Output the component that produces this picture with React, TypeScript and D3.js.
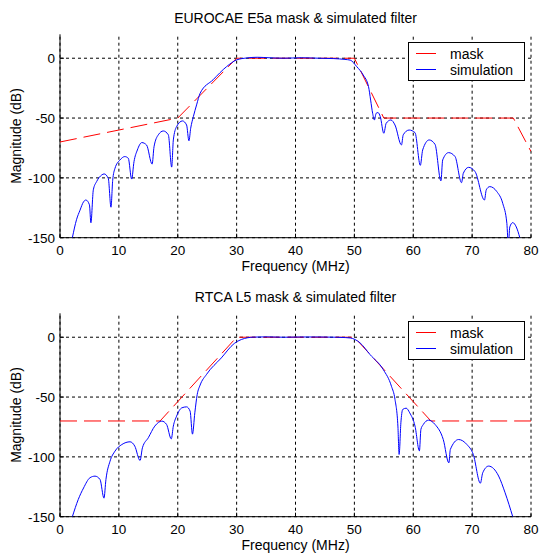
import React from "react";
import * as d3 from "d3";

const freqTicks = [0, 10, 20, 30, 40, 50, 60, 70, 80];
const magTicks = [-150, -100, -50, 0];
const legendLabels = ["mask", "simulation"];
const titles = ["EUROCAE E5a mask & simulated filter", "RTCA L5 mask & simulated filter"];

const e5aMaskF = [0, 20, 22, 30, 50, 55, 77, 80];
const e5aMaskDb = [-70, -50, -40, 0, 0, -50, -50, -78];

const e5aSimF = [2.1, 2.8, 3.4, 4.0, 4.4, 5.0, 5.25, 5.66, 6.23, 7.08, 7.5, 8.2, 8.66, 8.95, 9.34, 10.2, 11.0, 11.6, 12.17, 12.57, 13.14, 13.9, 14.7, 15.65, 15.97, 16.7, 17.55, 18.4, 18.97, 19.25, 19.8, 20.8, 21.5, 21.9, 22.2, 22.65, 23.2, 23.8, 26.0, 28.3, 30.0, 31.7, 33.5, 35.5, 38, 41, 44, 46.5, 48.4, 49.3, 50.4, 51.5, 52.4, 52.76, 53.1, 53.4, 53.7, 54.0, 54.4, 55.0, 55.4, 56.2, 56.9, 58.0, 58.3, 59.3, 60.3, 61.2, 61.6, 62.7, 63.7, 64.7, 65.0, 66.0, 67.1, 68.2, 68.5, 69.4, 70.5, 72.1, 72.4, 73.0, 74.2, 75.2, 75.9, 76.15, 76.4, 76.9, 77.5, 78.1];
const e5aSimDb = [-150, -135, -127, -120, -118.5, -122.5, -137.5, -110, -103, -97.6, -96.7, -100.4, -124.5, -102, -92, -85, -82.2, -83.6, -101, -86.4, -76.7, -70.5, -72.5, -88.5, -74, -64, -60.8, -64, -91, -68.3, -57.2, -52.4, -55.8, -69, -58.5, -48.8, -39, -29.3, -18, -7, -1.4, 0.2, 0.8, 0.4, 0, 0.4, 0, -0.3, -1, -1.6, -7, -14, -23.7, -35, -46, -51.6, -46, -45.4, -48.8, -62.7, -54.4, -51.6, -55.8, -72.5, -64, -60, -62.2, -89.5, -76.7, -68.3, -72, -102.5, -85, -78.9, -82.2, -104, -96.2, -91.2, -94.8, -118.5, -110, -107.3, -111.5, -121.3, -138, -156, -141, -137.4, -141, -150];

const l5MaskF = [0, 17, 30, 50, 63, 80];
const l5MaskDb = [-70, -70, 0, 0, -70, -70];

const l5SimF = [2.1, 3.1, 4.0, 5.1, 5.95, 6.8, 7.47, 7.8, 8.5, 9.34, 10.5, 11.9, 12.7, 13.6, 14.0, 15.0, 16.1, 17.3, 18.1, 18.9, 19.25, 19.8, 20.7, 21.5, 22.1, 22.5, 22.9, 23.3, 23.8, 24.9, 27.4, 29.6, 30.8, 32.9, 35, 38, 41, 44, 47, 48.5, 49.3, 50.96, 52.66, 54.9, 56.3, 56.9, 57.4, 57.6, 57.9, 58.2, 58.8, 59.4, 60.3, 61.05, 61.3, 61.7, 62.6, 63.7, 65.1, 66.05, 66.3, 67.7, 69.1, 70.2, 71.4, 71.8, 72.8, 74.5, 75.6, 76.9];
const l5SimDb = [-150, -135.6, -126, -117.4, -116.1, -118.9, -134.5, -119, -103.6, -95.2, -89.7, -87.4, -91, -103, -92.4, -84, -74.3, -70.1, -72.9, -85, -74.3, -66, -59, -58.2, -61.8, -81, -63.2, -48, -40, -31, -17.3, -5.2, -1.9, 0.1, 0.3, 0, 0.2, 0.2, 0, -0.3, -0.6, -4.7, -14.5, -27, -41, -52, -75, -98, -71.5, -60.4, -59.3, -63.2, -74.3, -95, -77, -73, -69.3, -72.9, -85.5, -105, -93.8, -85.5, -89.6, -98, -122, -113.3, -107.7, -116, -130, -150];

const FONT = "Arial, 'Liberation Sans', Helvetica, sans-serif";

type PanelProps = {
  title: string;
  maskF: number[];
  maskDb: number[];
  simF: number[];
  simDb: number[];
  off: number;
  id: string;
};

function Panel({ title, maskF, maskDb, simF, simDb, off, id }: PanelProps) {
  const x = d3.scaleLinear().domain([0, 80]).range([60, 531]);
  const y = d3.scaleLinear().domain([-150, 20]).range([237.7 + off, 34.3 + off]);
  const maskPts: [number, number][] = maskF.map((f, i) => [f, maskDb[i]]);
  const simPts: [number, number][] = simF.map((f, i) => [f, simDb[i]]);
  const lineLin = d3.line<[number, number]>().x((d) => x(d[0])).y((d) => y(d[1]));
  const lineSim = d3
    .line<[number, number]>()
    .x((d) => x(d[0]))
    .y((d) => y(d[1]))
    .curve(d3.curveMonotoneX);
  const [y0, y1] = y.range();
  const [x0, x1] = x.range();
  const cx = (x0 + x1) / 2;
  return (
    <g fontFamily={FONT} fontSize={14} fill="#000">
      <defs>
        <clipPath id={id}>
          <rect x={x0} y={y1} width={x1 - x0} height={y0 - y1} />
        </clipPath>
      </defs>
      <text x={cx} y={23 + off} textAnchor="middle">{title}</text>
      {/* grid */}
      {freqTicks.map((t) => (
        <line key={"gx" + t} x1={x(t)} x2={x(t)} y1={y0} y2={y1} stroke="#000" strokeWidth={1} strokeDasharray="3,3" />
      ))}
      {magTicks.map((t) => (
        <line key={"gy" + t} x1={x0} x2={x1} y1={y(t)} y2={y(t)} stroke="#000" strokeWidth={1} strokeDasharray="3,3" />
      ))}
      {/* ticks */}
      {freqTicks.map((t) => (
        <line key={"tx" + t} x1={x(t)} x2={x(t)} y1={y0} y2={y0 - 4} stroke="#000" />
      ))}
      {magTicks.map((t) => (
        <line key={"ty" + t} x1={x0} x2={x0 + 4} y1={y(t)} y2={y(t)} stroke="#000" />
      ))}
      {/* axes */}
      <line x1={x0} x2={x0} y1={y0} y2={y1} stroke="#000" />
      <line x1={x0} x2={x1} y1={y0} y2={y0} stroke="#000" />
      {freqTicks.map((t) => (
        <text key={"lx" + t} x={x(t)} y={y0 + 17.5} textAnchor="middle" fontSize={13.5}>{t}</text>
      ))}
      {magTicks.map((t) => (
        <text key={"ly" + t} x={55} y={y(t) + 5} textAnchor="end" fontSize={13.5}>{t}</text>
      ))}
      <text x={cx} y={y0 + 33.5} textAnchor="middle">Frequency (MHz)</text>
      <text transform={`translate(21,${(y0 + y1) / 2}) rotate(-90)`} textAnchor="middle">Magnitude (dB)</text>
      <g clipPath={`url(#${id})`}>
        <path d={lineLin(maskPts) || ""} fill="none" stroke="#ff0000" strokeWidth={1} strokeDasharray="17,7" />
        <path d={lineSim(simPts) || ""} fill="none" stroke="#0000ff" strokeWidth={1} />
      </g>
      {/* legend */}
      <rect x={408.5} y={42.5 + off} width={116} height={38} fill="#fff" stroke="#000" strokeWidth={1} />
      <line x1={416} x2={436} y1={53.5 + off} y2={53.5 + off} stroke="#ff0000" strokeWidth={1} />
      <line x1={416} x2={436} y1={69.5 + off} y2={69.5 + off} stroke="#0000ff" strokeWidth={1} />
      <text x={450} y={58.5 + off}>{legendLabels[0]}</text>
      <text x={450} y={74.5 + off}>{legendLabels[1]}</text>
    </g>
  );
}

export default function App() {
  return (
    <svg width={539} height={558} style={{ position: "absolute", left: 0, top: 0, background: "#fff" }}>
      <rect x={0} y={0} width={539} height={558} fill="#fff" />
      <Panel title={titles[0]} maskF={e5aMaskF} maskDb={e5aMaskDb} simF={e5aSimF} simDb={e5aSimDb} off={0} id="clipTop" />
      <Panel title={titles[1]} maskF={l5MaskF} maskDb={l5MaskDb} simF={l5SimF} simDb={l5SimDb} off={279} id="clipBot" />
    </svg>
  );
}
